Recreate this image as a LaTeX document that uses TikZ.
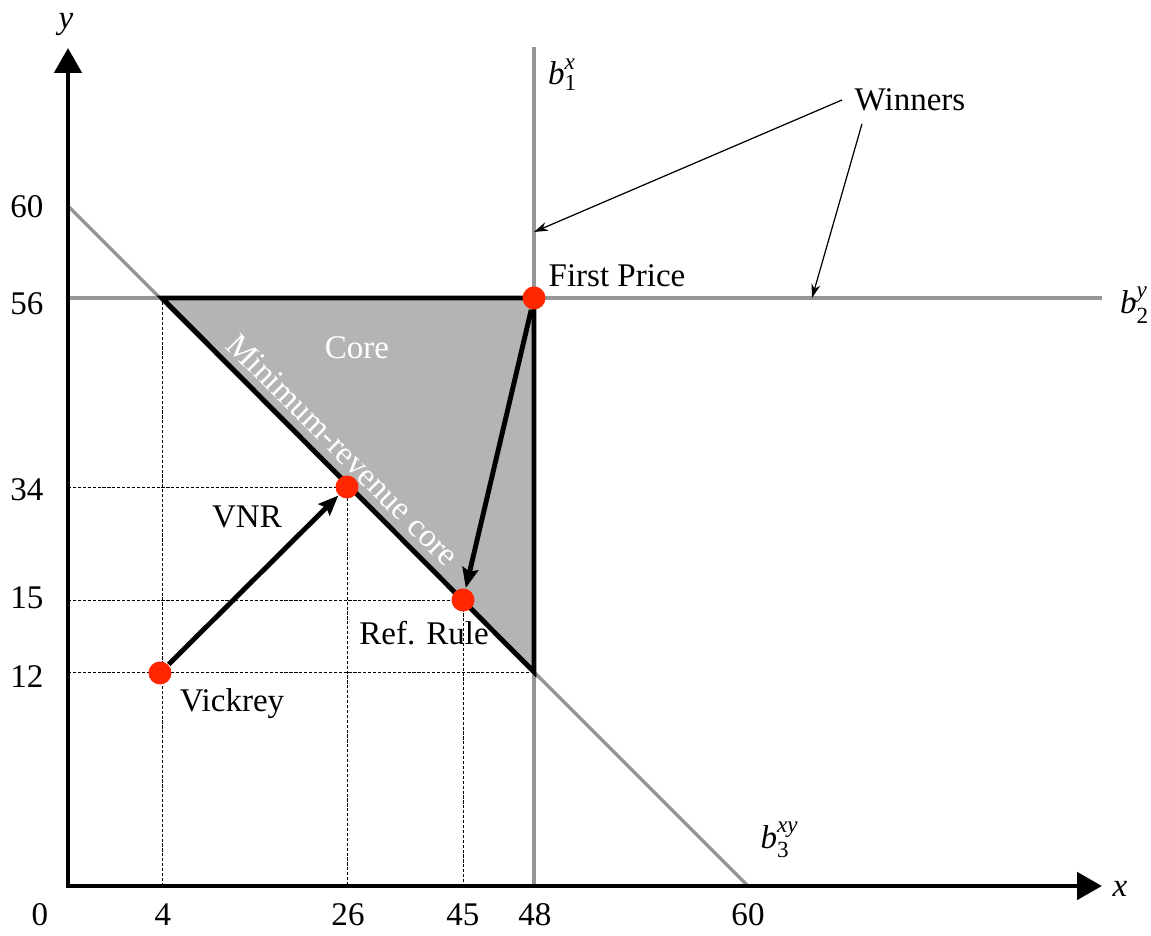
\documentclass[tikz,border=0pt]{standalone}
\usepackage{amsmath}
\usepackage{fontspec}
\setmainfont{Liberation Serif}
\usetikzlibrary{calc,arrows.meta}
\definecolor{dotred}{RGB}{255,38,0}
\definecolor{linegray}{RGB}{150,150,150}
\definecolor{coregray}{RGB}{180,180,180}
\newcommand{\bid}[2]{$\textit{b}_{\text{#1}}^{\textit{#2}}$}

\begin{document}
\begin{tikzpicture}[>=Stealth,
    font=\fontsize{9.4}{11}\selectfont,
    bidline/.style={linegray,line width=0.95pt},
    guide/.style={line width=0.25pt,dash pattern=on 0.9pt off 0.5pt},
    pt/.style={circle,fill=dotred,inner sep=0pt,minimum size=0.23cm},
    move/.style={line width=1.4pt,-{Stealth[length=0.2cm,width=0.16cm,inset=0.03cm]}},
    note/.style={line width=0.35pt,-{Stealth[length=0.14cm,width=0.09cm]}}]
  \useasboundingbox (-0.68,-0.50) rectangle (10.83,8.86);
  \coordinate (O) at (0,0);
  \coordinate (ytip) at (0,8.38);
  \coordinate (xtip) at (10.34,0);
  \coordinate (A) at (0.94,5.88);
  \coordinate (B) at (4.66,5.88);
  \coordinate (C) at (4.66,2.14);
  \coordinate (b1w) at (4.66,6.54);
  \coordinate (b2w) at (7.44,5.88);
  % bid lines
  \draw[bidline] (4.66,0) -- (4.66,8.39);
  \draw[bidline] (0,5.88) -- (10.34,5.88);
  \draw[bidline] (0,6.80) -- (6.80,0);
  \filldraw[fill=coregray,line width=1.4pt] (A) -- (B) -- (C) -- cycle;
  \coordinate (vnrc) at (2.79,3.99);
  \coordinate (refc) at (3.95,2.86);
  % guides to the axes
  \draw[guide] (A |- O) -- (A);
  \draw[guide] (O |- vnrc) -- (vnrc) -- (vnrc |- O);
  \draw[guide] (O |- refc) -- (refc) -- (refc |- O);
  \draw[guide] (O |- C) -- (C);
  \draw[line width=1.4pt,{Triangle[length=0.25cm,width=0.27cm]}-{Triangle[length=0.25cm,width=0.27cm]}] (ytip) -- (O) -- (xtip);
  \node[pt] (fp) at (B) {};
  \node[pt] (vnr) at (vnrc) {};
  \node[pt] (ref) at (refc) {};
  \node[pt] (vick) at (0.92,2.13) {};
  \draw[move] (vick) -- (vnr);
  \draw[move] (fp) -- (ref);
  % labels
  \foreach \v/\y in {60/6.79,56/5.82,34/3.96,15/2.88,12/2.09}
    \node[anchor=east,inner sep=0pt] (ly\v) at (-0.24,\y) {\v};
  \foreach \v/\x in {0/-0.28,4/0.95,26/2.80,45/3.95,48/4.67,60/6.80}
    \node (lx\v) at (\x,-0.29) {\v};
  \node (ylab) at (-0.02,8.61) {\textit{y}};
  \node (xlab) at (10.52,-0.03) {\textit{x}};
  \node (b1lab) at (4.95,8.11) {\bid{1}{x}};
  \node (b2lab) at (10.67,5.81) {\bid{2}{y}};
  \node (b3lab) at (7.12,0.46) {\bid{3}{xy}};
  \node (fplab) at (5.49,6.10) {First Price};
  \node[inner sep=0.12cm] (win) at (8.42,7.86) {Winners};
  \node[white] (corelab) at (2.89,5.38) {Core};
  \node[white,rotate=-45] (mrclab) at (2.75,4.36) {Minimum-revenue core};
  \node (vnrlab) at (1.79,3.69) {VNR};
  \node (reflab) at (3.56,2.53) {Ref. Rule};
  \node (vicklab) at (1.64,1.82) {Vickrey};
  \draw[note] (win.west) -- (b1w);
  \draw[note] ($(win.south west)+(0.2,0)$) -- (b2w);
\end{tikzpicture}
\end{document}
